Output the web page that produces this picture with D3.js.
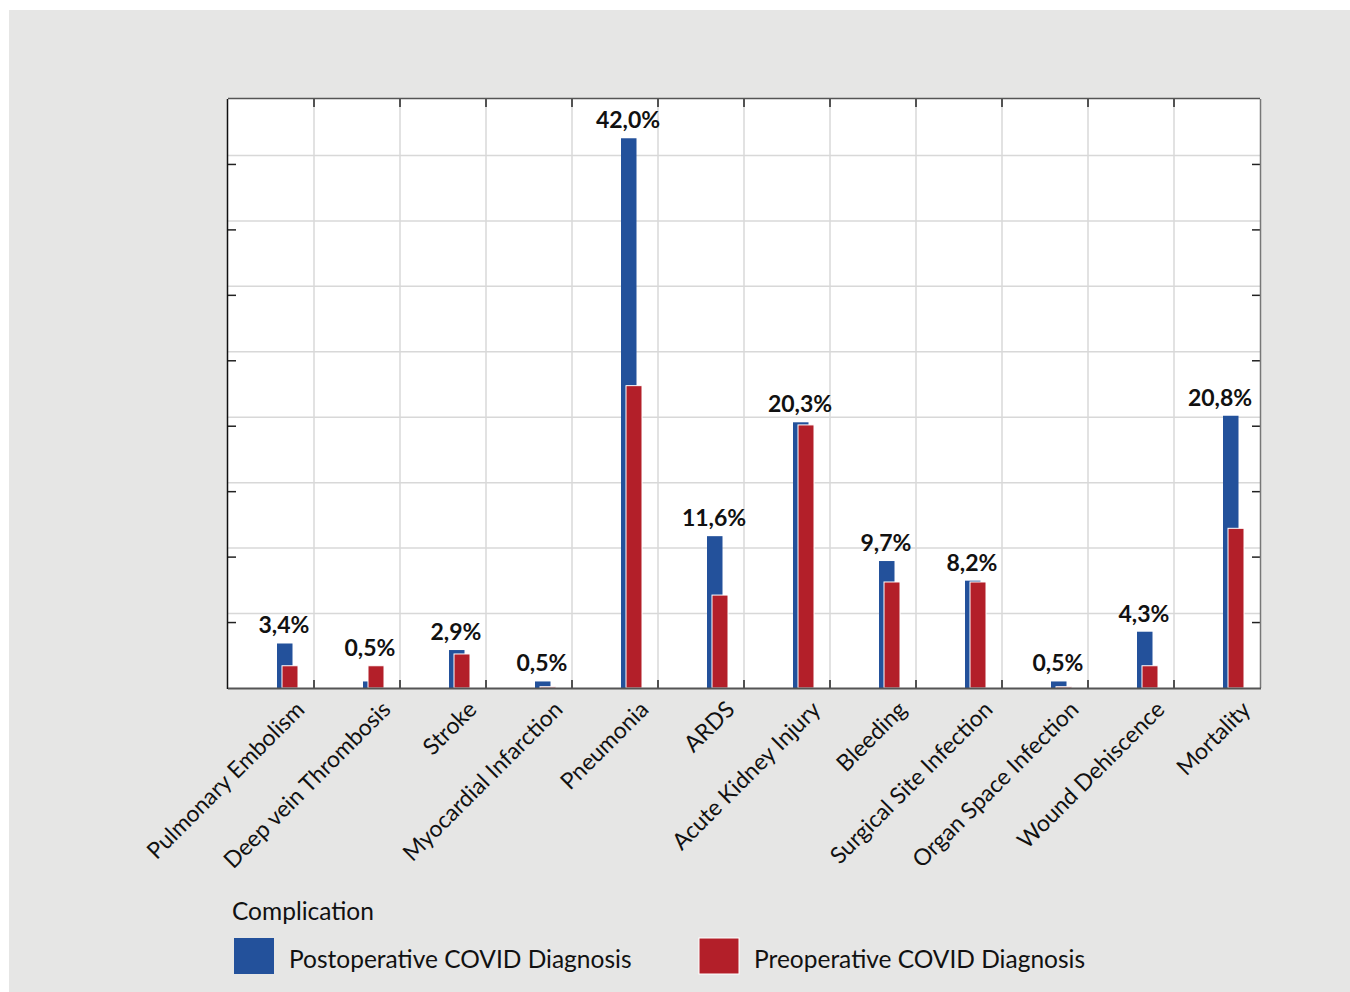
<!DOCTYPE html>
<html>
<head>
<meta charset="utf-8">
<script src="https://cdn.jsdelivr.net/npm/d3@7"></script>
<style>
  body { margin: 0; background: #fff; }
  text { font-family: Lato, "Open Sans", sans-serif; }
</style>
</head>
<body>
<svg class="chart"></svg>
<script>
var svgWidth = 1350, svgHeight = 992;
var categories = ['Pulmonary Embolism', 'Deep vein Thrombosis', 'Stroke', 'Myocardial Infarction',
  'Pneumonia', 'ARDS', 'Acute Kidney Injury', 'Bleeding', 'Surgical Site Infection',
  'Organ Space Infection', 'Wound Dehiscence', 'Mortality'];
var postop = [3.4, 0.5, 2.9, 0.5, 42.0, 11.6, 20.3, 9.7, 8.2, 0.5, 4.3, 20.8];
var preop = [1.7, 1.7, 2.6, 0.1, 23.1, 7.1, 20.1, 8.1, 8.1, 0.1, 1.7, 12.2];
var yTicks = [5, 10, 15, 20, 25, 30, 35, 40];
var seriesNames = ['Postoperative COVID Diagnosis', 'Preoperative COVID Diagnosis'];
var colors = ['#23519b', '#b31f29'];

var svg = d3.select('svg.chart').attr('width', svgWidth).attr('height', svgHeight);

svg.append('rect')
    .attr('x', 9).attr('y', 10)
    .attr('width', svgWidth - 9).attr('height', svgHeight - 10)
    .attr('fill', '#e6e6e5');

var pLeft = 228, pRight = 1260, pTop = 99, pBottom = 688;
var x = d3.scaleBand().domain(categories).range([pLeft, pRight]).padding(0);
var y = d3.scaleLinear().domain([0, 45]).range([pBottom, pTop]);

svg.append('rect')
    .attr('x', pLeft).attr('y', pTop)
    .attr('width', pRight - pLeft).attr('height', pBottom - pTop)
    .attr('fill', '#fff');

// grid
var grid = svg.append('g').attr('stroke', '#d8d8d8').attr('stroke-width', 1.5);
grid.selectAll('line.h')
    .data(yTicks)
    .enter()
    .append('line')
    .attr('x1', pLeft).attr('x2', pRight)
    .attr('y1', function(d) { return y(d) - 9; })
    .attr('y2', function(d) { return y(d) - 9; });
grid.selectAll('line.v')
    .data(categories.slice(1))
    .enter()
    .append('line')
    .attr('x1', function(d) { return x(d); })
    .attr('x2', function(d) { return x(d); })
    .attr('y1', pTop).attr('y2', pBottom);

// ticks
var ticks = svg.append('g').attr('stroke', '#222').attr('stroke-width', 1.5);
yTicks.forEach(function(v) {
  ticks.append('line').attr('x1', pLeft).attr('x2', pLeft + 8).attr('y1', y(v)).attr('y2', y(v));
  ticks.append('line').attr('x1', pRight - 8).attr('x2', pRight).attr('y1', y(v)).attr('y2', y(v));
});
categories.slice(1).forEach(function(c) {
  ticks.append('line').attr('x1', x(c)).attr('x2', x(c)).attr('y1', pTop).attr('y2', pTop + 8);
  ticks.append('line').attr('x1', x(c)).attr('x2', x(c)).attr('y1', pBottom - 8).attr('y2', pBottom);
});

// bars
var data = categories.map(function(c, i) { return { cat: c, post: postop[i], pre: preop[i] }; });

svg.selectAll('rect.post')
    .data(data)
    .enter()
    .append('rect')
    .attr('class', 'post')
    .attr('x', function(d) { return x(d.cat) + 49; })
    .attr('width', 15.5)
    .attr('y', function(d) { return y(d.post); })
    .attr('height', function(d) { return pBottom - y(d.post); })
    .attr('fill', colors[0]);

svg.selectAll('rect.pre')
    .data(data)
    .enter()
    .append('rect')
    .attr('class', 'pre')
    .attr('x', function(d) { return x(d.cat) + 54; })
    .attr('width', 16)
    .attr('y', function(d) { return y(d.pre); })
    .attr('height', function(d) { return pBottom - y(d.pre); })
    .attr('fill', colors[1])
    .attr('stroke', '#fff')
    .attr('stroke-width', 1);

// frame
svg.append('line').attr('x1', pLeft - 0.5).attr('x2', pLeft - 0.5).attr('y1', pTop).attr('y2', pBottom + 1)
    .attr('stroke', '#111').attr('stroke-width', 1.5);
svg.append('line').attr('x1', pLeft).attr('x2', pRight).attr('y1', pTop - 0.5).attr('y2', pTop - 0.5)
    .attr('stroke', '#555').attr('stroke-width', 1.5);
svg.append('line').attr('x1', pRight + 0.5).attr('x2', pRight + 0.5).attr('y1', pTop).attr('y2', pBottom)
    .attr('stroke', '#777').attr('stroke-width', 1.5);
svg.append('line').attr('x1', pLeft).attr('x2', pRight + 1).attr('y1', pBottom + 0.5).attr('y2', pBottom + 0.5)
    .attr('stroke', '#555').attr('stroke-width', 2);

// value labels
svg.selectAll('text.value')
    .data(data)
    .enter()
    .append('text')
    .attr('class', 'value')
    .attr('x', function(d) { return Math.min(x(d.cat) + 56, pRight - 40); })
    .attr('y', function(d) { return y(Math.max(d.post, d.pre)) - 10; })
    .attr('text-anchor', 'middle')
    .attr('font-size', 23)
    .attr('font-weight', 'bold')
    .attr('fill', '#111')
    .text(function(d) { return d.post.toFixed(1).replace('.', ',') + '%'; });

// category labels
svg.selectAll('text.cat')
    .data(categories)
    .enter()
    .append('text')
    .attr('class', 'cat')
    .attr('text-anchor', 'end')
    .attr('font-size', 23)
    .attr('fill', '#111')
    .attr('transform', function(d) { return 'translate(' + (x(d) + 78) + ',711) rotate(-45)'; })
    .text(function(d) { return d; });

// legend
svg.append('text')
    .attr('x', 232).attr('y', 920)
    .attr('font-size', 24.5)
    .attr('fill', '#111')
    .text('Complication');

var legend = svg.append('g').attr('class', 'legend')
    .selectAll('g')
    .data(seriesNames)
    .enter()
    .append('g')
    .attr('transform', function(d, i) { return 'translate(' + [234, 699][i] + ',938)'; });
legend.append('rect')
    .attr('width', 40).attr('height', 36)
    .attr('fill', function(d, i) { return colors[i]; })
    .attr('stroke', function(d, i) { return i ? '#fff' : 'none'; });
legend.append('text')
    .attr('x', 55).attr('y', 30)
    .attr('font-size', 24.5)
    .attr('fill', '#111')
    .text(function(d) { return d; });
</script>
</body>
</html>
